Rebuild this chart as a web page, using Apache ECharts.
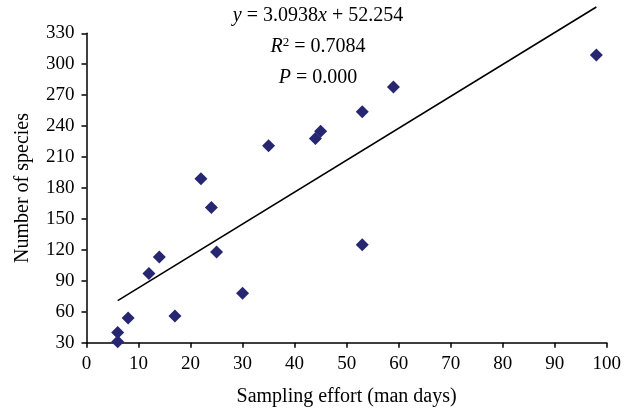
<!doctype html>
<html>
<head>
    <meta charset="utf-8">
    <title>species vs sampling effort</title>
    <script src="https://cdn.jsdelivr.net/npm/echarts@6/dist/echarts.min.js"></script>
    <style>
        html,body{margin:0;padding:0;background:#fff;}
        #chart{width:624px;height:412px;}
    </style>
</head>
<body>
    <div id="chart"></div>
    <script>
        //数据
        var effortDays=[6,6,8,12,14,17,22,24,25,30,35,44,45,53,53,59,98];
        var speciesCount=[31,40,54,97,113,56,189,161,118,78,221,228,235,254,125,278,309];
        //回归线
        var fitSlope=3.0938, fitIntercept=52.254;
        var fitRange=[6,98];
        //刻度
        var xTicks={min:0,max:100,interval:10};
        var yTicks={min:30,max:330,interval:30};

        var points=[];
        for(var i=0;i<effortDays.length;i++){
            points.push([effortDays[i],speciesCount[i]]);
        }
        var fitLine=fitRange.map(function(x){return [x,fitSlope*x+fitIntercept];});

        var serif='"Liberation Serif", "DejaVu Serif", serif';
        var axisCommon={
            axisLine:{show:true,lineStyle:{color:'#000',width:1.5}},
            axisTick:{show:true,inside:false,length:5,lineStyle:{color:'#000',width:1.5}},
            splitLine:{show:false},
            axisLabel:{color:'#000',fontFamily:serif,fontSize:19,margin:12},
            nameTextStyle:{color:'#000',fontFamily:serif,fontSize:20}
        };
        var rich={
            i:{fontStyle:'italic',fontFamily:serif,fontSize:20,fill:'#000'},
            n:{fontFamily:serif,fontSize:20,fill:'#000'},
            s:{fontFamily:serif,fontSize:13,fill:'#000',verticalAlign:'top',padding:[0,0,9,0]}
        };

        var chart=echarts.init(document.getElementById('chart'));
        chart.setOption({
            animation:false,
            grid:{left:86.5,right:15.7,top:33.3,bottom:69.3,containLabel:false},
            xAxis:Object.assign({},axisCommon,{
                type:'value',min:xTicks.min,max:xTicks.max,interval:xTicks.interval,
                name:'Sampling effort (man days)',nameLocation:'middle',nameGap:44
            }),
            yAxis:Object.assign({},axisCommon,{
                type:'value',min:yTicks.min,max:yTicks.max,interval:yTicks.interval,
                name:'Number of species',nameLocation:'middle',nameGap:54
            }),
            series:[
                {
                    type:'line',data:fitLine,symbol:'none',clip:false,
                    lineStyle:{color:'#000',width:1.6},z:2
                },
                {
                    type:'scatter',data:points,symbol:'diamond',symbolSize:13,clip:false,
                    itemStyle:{color:'#262770',opacity:1},z:3
                }
            ],
            graphic:[
                {type:'text',style:{x:318,y:16,align:'center',verticalAlign:'middle',rich:rich,
                    text:'{i|y}{n| = 3.0938}{i|x}{n| + 52.254}'}},
                {type:'text',style:{x:318,y:47,align:'center',verticalAlign:'middle',rich:rich,
                    text:'{i|R}{s|2}{n| = 0.7084}'}},
                {type:'text',style:{x:318,y:78,align:'center',verticalAlign:'middle',rich:rich,
                    text:'{i|P}{n| = 0.000}'}}
            ]
        });
    </script>
</body>
</html>
